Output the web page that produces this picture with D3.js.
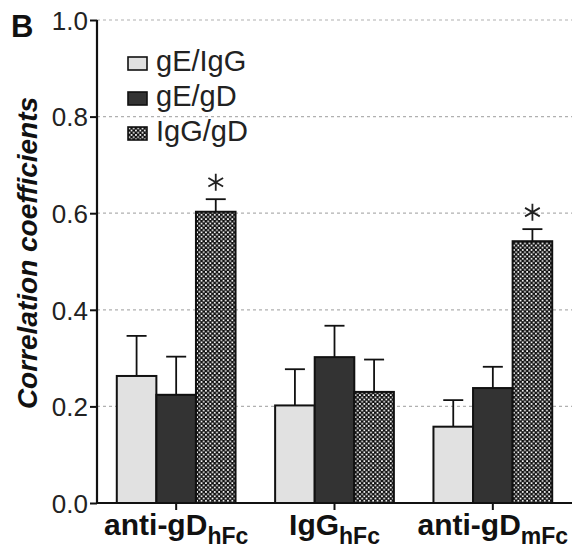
<!DOCTYPE html>
<html>
<head>
<meta charset="utf-8">
<script src="https://cdn.jsdelivr.net/npm/d3@7"></script>
<style>
  body { margin: 0; background: #fff; }
  svg { display: block; font-family: "Liberation Sans", Arial, sans-serif; }
  .tick-label { font-size: 26px; fill: #222; }
  .legend-label { font-size: 29px; fill: #222; }
  .group-label { font-size: 30px; font-weight: bold; fill: #111; }
  .axis-title { font-size: 28px; font-weight: bold; font-style: italic; fill: #111; }
</style>
</head>
<body>
<div id="chart"></div>
<script>
// groups on the x axis, with their subscripts
const groups = ["anti-gD", "IgG", "anti-gD "];
const groupSubs = ["hFc", "hFc", "mFc"];
const series = ["gE/IgG", "gE/gD", "IgG/gD"];

// mean correlation coefficients, one array per series (in group order)
const gEIgG = [0.263, 0.202, 0.158];
const gEgD = [0.224, 0.302, 0.238];
const IgGgD = [0.603, 0.230, 0.542];

// upper end of the error bars
const gEIgGErr = [0.346, 0.277, 0.213];
const gEgDErr = [0.303, 0.367, 0.282];
const IgGgDErr = [0.629, 0.297, 0.567];

// which bars carry an asterisk
const starred = [[2, 0], [2, 2]]; // [series index, group index]

const yTicks = [0.0, 0.2, 0.4, 0.6, 0.8, 1.0];

const values = [gEIgG, gEgD, IgGgD];
const errs = [gEIgGErr, gEgDErr, IgGgDErr];
const fills = ["#e1e1e1", "#333333", "url(#check)"];

const width = 572, height = 549;
const margin = { top: 20, right: 0, bottom: 46, left: 97 };

const svg = d3.select("#chart")
  .append("svg")
  .attr("width", width)
  .attr("height", height);

// checkered pattern for the IgG/gD bars
const pat = svg.append("defs")
  .append("pattern")
  .attr("id", "check")
  .attr("patternUnits", "userSpaceOnUse")
  .attr("width", 4.4)
  .attr("height", 4.4);
pat.append("rect").attr("width", 4.4).attr("height", 4.4).attr("fill", "#111");
pat.append("rect").attr("x", 0.5).attr("y", 0.5).attr("width", 1.7).attr("height", 1.7).attr("fill", "#fff");
pat.append("rect").attr("x", 2.7).attr("y", 2.7).attr("width", 1.7).attr("height", 1.7).attr("fill", "#fff");

const x0 = d3.scaleBand()
  .domain(groups)
  .range([margin.left, width - margin.right])
  .paddingInner(0.25)
  .paddingOuter(0.125);

const x1 = d3.scaleBand()
  .domain(series)
  .range([0, x0.bandwidth()]);

const y = d3.scaleLinear()
  .domain([0, 1])
  .range([height - margin.bottom, margin.top]);

// dashed grid lines
svg.append("g")
  .selectAll("line")
  .data(yTicks.filter(d => d > 0))
  .enter()
  .append("line")
  .attr("x1", margin.left)
  .attr("x2", width)
  .attr("y1", d => y(d))
  .attr("y2", d => y(d))
  .attr("stroke", "#b0b0b0")
  .attr("stroke-width", 1.2)
  .attr("stroke-dasharray", "3,3");

// bars
const barData = [];
series.forEach((s, si) => {
  groups.forEach((g, gi) => {
    barData.push({ s, si, g, gi, v: values[si][gi], e: errs[si][gi] });
  });
});

// error bars (drawn before the bars so the stem hides inside)
const eb = svg.append("g")
  .attr("stroke", "#111")
  .attr("stroke-width", 1.8);
eb.selectAll("line.stem")
  .data(barData)
  .enter()
  .append("line")
  .attr("x1", d => x0(d.g) + x1(d.s) + x1.bandwidth() / 2)
  .attr("x2", d => x0(d.g) + x1(d.s) + x1.bandwidth() / 2)
  .attr("y1", d => y(d.v))
  .attr("y2", d => y(d.e));
eb.selectAll("line.cap")
  .data(barData)
  .enter()
  .append("line")
  .attr("x1", d => x0(d.g) + x1(d.s) + x1.bandwidth() / 2 - 10)
  .attr("x2", d => x0(d.g) + x1(d.s) + x1.bandwidth() / 2 + 10)
  .attr("y1", d => y(d.e))
  .attr("y2", d => y(d.e));

svg.append("g")
  .selectAll("rect")
  .data(barData)
  .enter()
  .append("rect")
  .attr("x", d => x0(d.g) + x1(d.s))
  .attr("y", d => y(d.v))
  .attr("width", x1.bandwidth())
  .attr("height", d => y(0) - y(d.v))
  .attr("fill", d => fills[d.si])
  .attr("stroke", "#111")
  .attr("stroke-width", 2);

// asterisks above the starred bars
starred.forEach(([si, gi]) => {
  const cx = x0(groups[gi]) + x1(series[si]) + x1.bandwidth() / 2;
  const cy = y(errs[si][gi]) - 17;
  const r = 8.5;
  const p = d3.path();
  [90, 30, 150].forEach(a => {
    const rad = a * Math.PI / 180;
    p.moveTo(cx - r * Math.cos(rad), cy - r * Math.sin(rad));
    p.lineTo(cx + r * Math.cos(rad), cy + r * Math.sin(rad));
  });
  svg.append("path")
    .attr("d", p.toString())
    .attr("stroke", "#222")
    .attr("stroke-width", 1.8)
    .attr("fill", "none");
});

// y axis
const yAxis = svg.append("g")
  .attr("transform", "translate(" + margin.left + ",0)")
  .call(d3.axisLeft(y).tickValues(yTicks).tickFormat(d3.format(".1f")).tickSize(7).tickPadding(2));
yAxis.select(".domain").attr("stroke", "#111").attr("stroke-width", 2.2).attr("d", "M0," + y(1) + "V" + y(0));
yAxis.selectAll(".tick line").attr("stroke", "#111").attr("stroke-width", 2);
yAxis.selectAll(".tick text")
  .attr("class", "tick-label")
  .attr("font-family", null)
  .attr("font-size", null)
  .attr("dy", "0.36em");

// x axis
const xAxis = svg.append("g")
  .attr("transform", "translate(0," + y(0) + ")")
  .call(d3.axisBottom(x0).tickSize(7).tickFormat(""));
xAxis.select(".domain").attr("stroke", "#111").attr("stroke-width", 2.2).attr("d", "M" + margin.left + ",0H" + width);
xAxis.selectAll(".tick line").attr("stroke", "#111").attr("stroke-width", 2);

// group labels with subscripts
groups.forEach((g, i) => {
  const t = svg.append("text")
    .attr("class", "group-label")
    .attr("x", x0(g) + x0.bandwidth() / 2)
    .attr("y", y(0) + 32)
    .attr("text-anchor", "middle");
  t.append("tspan").text(g.trim());
  t.append("tspan")
    .attr("dy", 9)
    .attr("font-size", "23px")
    .text(groupSubs[i]);
});

// y axis title
svg.append("text")
  .attr("class", "axis-title")
  .attr("transform", "translate(37," + 253 + ") rotate(-90)")
  .attr("text-anchor", "middle")
  .text("Correlation coefficients");

// panel letter
svg.append("text")
  .attr("x", 11)
  .attr("y", 37)
  .attr("font-size", "31px")
  .attr("font-weight", "bold")
  .attr("fill", "#111")
  .text("B");

// legend
const legend = svg.append("g")
  .selectAll("g")
  .data(series)
  .enter()
  .append("g")
  .attr("transform", (d, i) => "translate(128," + (57 + i * 35) + ")");
legend.append("rect")
  .attr("width", 19)
  .attr("height", 13)
  .attr("fill", (d, i) => fills[i])
  .attr("stroke", "#111")
  .attr("stroke-width", 1.6);
legend.append("text")
  .attr("class", "legend-label")
  .attr("x", 28)
  .attr("y", 14)
  .text(d => d);
</script>
</body>
</html>
